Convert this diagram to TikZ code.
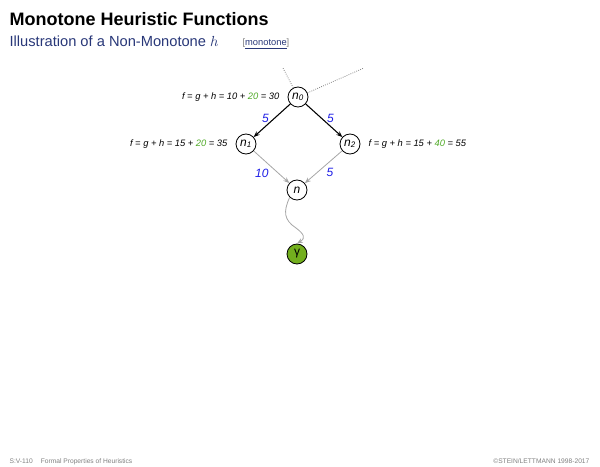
\documentclass[tikz,border=0pt]{standalone}
\usepackage{fontspec}
\setmainfont{Liberation Sans}
\usetikzlibrary{arrows.meta, positioning, calc}

\definecolor{titleblue}{RGB}{40,55,120}
\definecolor{hgreen}{RGB}{80,170,40}
\definecolor{goalgreen}{RGB}{115,175,30}
\definecolor{costblue}{RGB}{30,30,230}

\newcommand{\nd}[1]{\textit{n}\textsubscript{\textit{#1}}}

\begin{document}
\begin{tikzpicture}[
    x=0.75pt, y=-0.75pt,
    >={Stealth[length=4.5pt, width=3.5pt]},
    state/.style={circle, draw, semithick, minimum size=15pt, inner sep=0pt, font=\small},
    goal/.style={state, fill=goalgreen},
    tree edge/.style={->, thick},
    path edge/.style={->, gray!70, semithick},
    cost/.style={font=\itshape\small, color=costblue},
    flabel/.style={font=\itshape\fontsize{7}{8.5}\selectfont},
    every node/.style={inner sep=1pt}
]

    % === Canvas ===
    \useasboundingbox (0,0) rectangle (600,467);

    % === Heading ===
    \node[anchor=base west, font=\bfseries\fontsize{13.5}{15}\selectfont] (title) at (8,26) {Monotone Heuristic Functions};
    \node[anchor=base west, font=\fontsize{11}{13}\selectfont, color=titleblue] (subtitle) at (8,47) {Illustration of a Non-Monotone $h$};
    \node[anchor=base west, font=\fontsize{7}{8}\selectfont, color=titleblue] (link) at (241,46)
        {\textcolor{gray}{[}\underline{monotone}\textcolor{gray}{]}};

    % === Search graph ===
    \node[state] (n0) at (298,97) {\nd{0}};
    \node[state] (n1) at (246,144) {\nd{1}};
    \node[state] (n2) at (350,144) {\nd{2}};
    \node[state] (n)  at (297,190) {\textit{n}};
    \node[goal]  (g)  at (297,254) {γ};

    % Ancestors of n0 (not shown)
    \coordinate (up1) at (283,68);
    \coordinate (up2) at (364,68);
    \draw[gray, densely dotted, semithick] (n0) -- (up1);
    \draw[gray, densely dotted, semithick] (n0) -- (up2);

    % Edges
    \draw[tree edge] (n0) -- (n1) node[cost, midway, above left, xshift=-1pt, yshift=-3pt] {5};
    \draw[tree edge] (n0) -- (n2) node[cost, midway, above right, xshift=1pt, yshift=-3pt] {5};
    \draw[path edge] (n1) -- (n) node[cost, midway, below left, xshift=-1pt] {10};
    \draw[path edge] (n2) -- (n) node[cost, midway, below right, xshift=1pt] {5};

    % Path from n to the goal
    \draw[path edge] (n.south west) .. controls (283,212) and (284,220) .. (296,228)
        .. controls (304,234) and (306,238) .. (g.north);

    % === f values ===
    \node[flabel, left=5pt of n0] (f0) {f = g + h = 10 + \textcolor{hgreen}{20} = 30};
    \node[flabel, left=5pt of n1] (f1) {f = g + h = 15 + \textcolor{hgreen}{20} = 35};
    \node[flabel, right=5pt of n2] (f2) {f = g + h = 15 + \textcolor{hgreen}{40} = 55};

    % === Footer ===
    \node[anchor=base west, font=\fontsize{5}{6}\selectfont, color=gray] (foot) at (8,463) {S:V-110\hspace{1.2em}Formal Properties of Heuristics};
    \node[anchor=base east, font=\fontsize{5}{6}\selectfont, color=gray] (copy) at (591,463) {\textcopyright STEIN/LETTMANN 1998-2017};

\end{tikzpicture}
\end{document}
